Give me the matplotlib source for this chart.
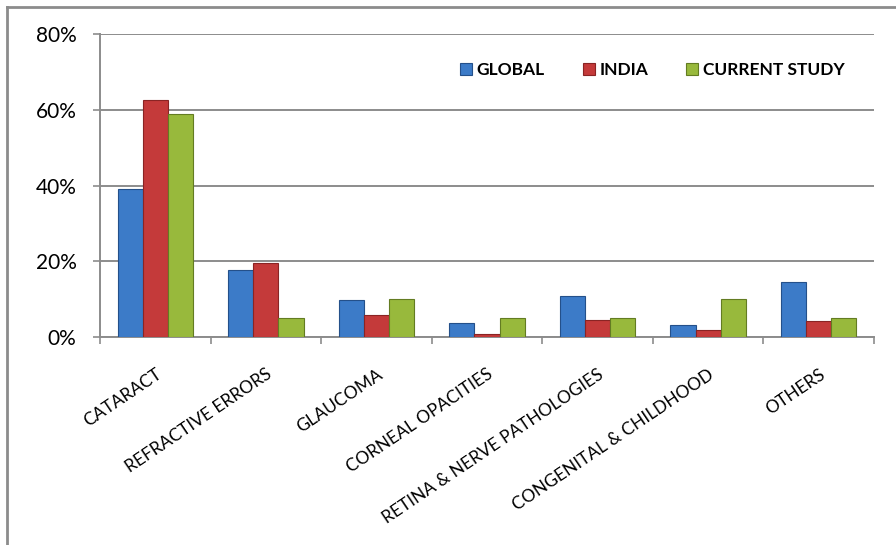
import numpy as np
import matplotlib.pyplot as plt
from matplotlib.lines import Line2D
from matplotlib.ticker import FuncFormatter

categories = ['CATARACT', 'REFRACTIVE ERRORS', 'GLAUCOMA', 'CORNEAL OPACITIES',
              'RETINA & NERVE PATHOLOGIES', 'CONGENITAL & CHILDHOOD', 'OTHERS']
series_names = ['GLOBAL', 'INDIA', 'CURRENT STUDY']
global_vals = [39.0, 17.8, 9.9, 3.8, 10.9, 3.1, 14.6]
india_vals = [62.7, 19.5, 5.7, 0.8, 4.4, 1.8, 4.1]
study_vals = [58.8, 5.0, 10.1, 4.9, 5.1, 10.1, 4.9]
y_ticks = [0, 20, 40, 60, 80]

colors = ['#3c7bc8', '#c43a3a', '#98b93c']
edges = ['#24508a', '#8a2424', '#637c22']

plt.rcParams['font.family'] = ['Lato', 'DejaVu Sans']

fig = plt.figure(figsize=(8.96, 5.45), dpi=100)
ax = fig.add_axes([100 / 896, 1 - 337 / 545, 774 / 896, 303 / 545])

x = np.arange(len(categories))
w = 0.227
for i, vals in enumerate([global_vals, india_vals, study_vals]):
    ax.bar(x + (i - 1) * w, vals, w, color=colors[i], edgecolor=edges[i],
           linewidth=0.8, label=series_names[i], zorder=3)

ax.set_xlim(-0.5, len(categories) - 0.5)
ax.set_ylim(0, 80)
ax.set_yticks(y_ticks)
ax.yaxis.set_major_formatter(FuncFormatter(lambda v, p: f'{v:.0f}%'))
ax.grid(axis='y', color='#8c8c8c', linewidth=1.4, zorder=0)

ax.set_xticks(x)
ax.set_xticklabels(categories, rotation=34, ha='right', rotation_mode='anchor',
                   fontsize=12.5)
ax.tick_params(axis='x', which='major', length=0, pad=21)
ax.set_xticks(np.arange(-0.5, len(categories)), minor=True)
ax.tick_params(axis='x', which='minor', length=5, color='#8c8c8c', width=1.2)
ax.tick_params(axis='y', length=5, color='#8c8c8c', width=1.2, labelsize=15, pad=12)

for s in ['top', 'right']:
    ax.spines[s].set_visible(False)
for s in ['left', 'bottom']:
    ax.spines[s].set_color('#8c8c8c')
    ax.spines[s].set_linewidth(1.4)

ax.legend(ncol=3, loc='upper right', bbox_to_anchor=(0.982, 0.96), frameon=False,
          prop={'weight': 'bold', 'size': 12.5}, handlelength=0.7, handleheight=0.7,
          handletextpad=0.25, columnspacing=2.2)

# outer chart frame (left and top edges)
fig.add_artist(Line2D([7 / 896, 7 / 896], [0, 1 - 7 / 545], color='#8c8c8c', linewidth=2))
fig.add_artist(Line2D([7 / 896, 1], [1 - 7 / 545, 1 - 7 / 545], color='#8c8c8c', linewidth=2))

fig.savefig('out.png', dpi=100)
